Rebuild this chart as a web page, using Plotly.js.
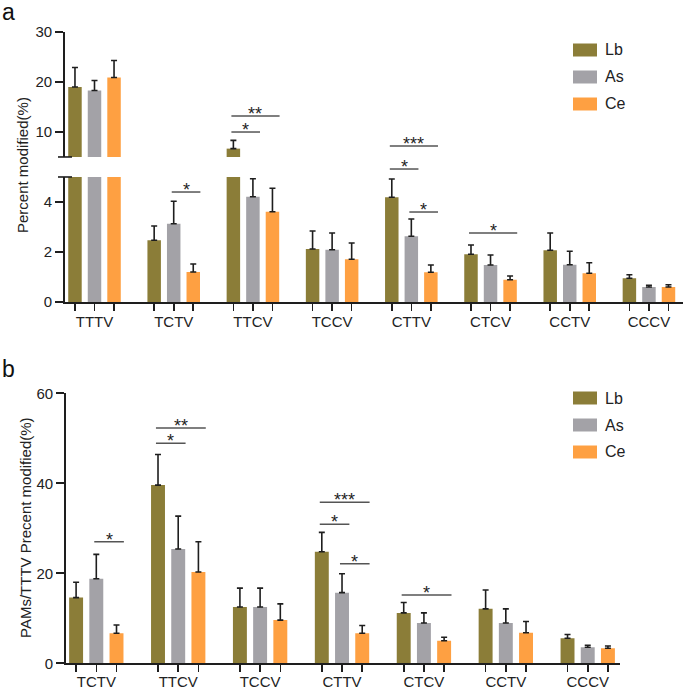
<!DOCTYPE html>
<html>
<head>
<meta charset="utf-8">
<script src="https://cdn.plot.ly/plotly-3.0.1.min.js"></script>
<style>
html, body { margin: 0; padding: 0; background: #fff; }
#chart { width: 685px; height: 690px; }
</style>
</head>
<body>
<div id="chart"></div>
<script>
// panel a: percent modified per PAM motif
var motifsA = ['TTTV', 'TCTV', 'TTCV', 'TCCV', 'CTTV', 'CTCV', 'CCTV', 'CCCV'];
var lbA    = [19.0, 2.47, 6.67, 2.12, 4.19, 1.91, 2.07, 0.95];
var lbErrA = [3.9, 0.57, 1.66, 0.72, 0.73, 0.37, 0.69, 0.14];
var asA    = [18.3, 3.13, 4.21, 2.09, 2.63, 1.48, 1.49, 0.60];
var asErrA = [2.0, 0.90, 0.72, 0.67, 0.69, 0.40, 0.54, 0.07];
var ceA    = [20.9, 1.20, 3.61, 1.71, 1.19, 0.89, 1.15, 0.60];
var ceErrA = [3.4, 0.32, 0.94, 0.65, 0.29, 0.15, 0.42, 0.09];

// panel b: PAMs / TTTV
var motifsB = ['TCTV', 'TTCV', 'TCCV', 'CTTV', 'CTCV', 'CCTV', 'CCCV'];
var lbB    = [14.6, 39.6, 12.5, 24.8, 11.2, 12.1, 5.55];
var lbErrB = [3.4, 6.8, 4.2, 4.3, 2.3, 4.2, 0.85];
var asB    = [18.8, 25.4, 12.5, 15.7, 8.96, 8.96, 3.55];
var asErrB = [5.4, 7.3, 4.2, 4.2, 2.24, 3.14, 0.45];
var ceB    = [6.67, 20.3, 9.6, 6.67, 5.0, 6.8, 3.33];
var ceErrB = [1.83, 6.7, 3.6, 1.73, 0.8, 2.5, 0.52];

// significance brackets: [group, from bar, to bar, height, label]
// panel a heights are in lower-axis units, carried on up past the break
var sigA = [[1, 1, 2, 4.4, '*'], [2, 0, 1, 6.8, '*'], [2, 0, 2, 7.44, '**'],
            [4, 0, 2, 6.24, '***'], [4, 0, 1, 5.32, '*'], [4, 1, 2, 3.6, '*'],
            [5, 0, 2, 2.76, '*']];
var sigB = [[0, 1, 2, 27.0, '*'], [1, 0, 1, 48.9, '*'], [1, 0, 2, 52.3, '**'],
            [3, 0, 2, 35.8, '***'], [3, 0, 1, 30.9, '*'], [3, 1, 2, 22.1, '*'],
            [4, 0, 2, 15.2, '*']];

var names = ['Lb', 'As', 'Ce'];
var colors = ['#8b7d38', '#a3a2a7', '#fea042'];
var FONT = 'Liberation Sans, Arial, sans-serif';
var INK = '#1e1e1e';
var BARGAP = 0.26, GROUPGAP = 0.31;
var BREAK = 5;   // panel a axis break
var slot = (1 - BARGAP) / 3;

function idx(arr) { return arr.map(function (d, i) { return i; }); }

function bar(i, vals, errs, xa, ya) {
    return {
        type: 'bar', name: names[i], x: idx(vals), y: vals,
        xaxis: xa, yaxis: ya, showlegend: false,
        marker: {color: colors[i], line: {width: 0}},
        error_y: {type: 'data', array: errs, arrayminus: errs.map(function () { return 0; }),
                  symmetric: false, color: INK, thickness: 1.6, width: 3},
        hoverinfo: 'skip'
    };
}

var data = [];
var setsA = [[lbA, lbErrA], [asA, asErrA], [ceA, ceErrA]];
var setsB = [[lbB, lbErrB], [asB, asErrB], [ceB, ceErrB]];
setsA.forEach(function (s, i) { data.push(bar(i, s[0], s[1], 'x', 'y')); });
// upper segment: only bars that cross the break keep their error bars
setsA.forEach(function (s, i) {
    var errs = s[1].map(function (e, k) { return s[0][k] > BREAK ? e : 0; });
    data.push(bar(i, s[0], errs, 'x', 'y2'));
});
setsB.forEach(function (s, i) { data.push(bar(i, s[0], s[1], 'x2', 'y3')); });

function ticks(cats) {
    var vals = [], text = [];
    cats.forEach(function (c, g) {
        [-1, 0, 1].forEach(function (k) {
            vals.push(g + k * slot);
            text.push(k === 0 ? c : '');
        });
    });
    return {vals: vals, text: text};
}
var tA = ticks(motifsA), tB = ticks(motifsB);

var axisBase = {
    showline: true, linewidth: 1.8, linecolor: INK, ticks: 'outside', tickcolor: INK,
    tickwidth: 1.6, showgrid: false, zeroline: false, fixedrange: true,
    tickfont: {family: FONT, size: 15, color: '#222'}
};
function ax(extra) { return Object.assign({}, axisBase, extra); }

var shapes = [], annotations = [];
function brackets(list, xref, yref) {
    list.forEach(function (s) {
        var x0 = s[0] + (s[1] - 1) * slot - 0.025;
        var x1 = s[0] + (s[2] - 1) * slot + 0.09;
        shapes.push({type: 'line', xref: xref, yref: yref, x0: x0, x1: x1, y0: s[3], y1: s[3],
                     line: {color: '#555', width: 1.5}});
        annotations.push({xref: xref, yref: yref, x: (x0 + x1) / 2, y: s[3], text: s[4],
                          showarrow: false, yanchor: 'bottom', yshift: -10,
                          font: {family: FONT, size: 18, color: INK}});
    });
}
brackets(sigA, 'x', 'y4');
brackets(sigB, 'x2', 'y3');

// axis break marks
[0.7725, 0.7435].forEach(function (y) {
    shapes.push({type: 'line', xref: 'paper', yref: 'paper', x0: 58 / 685, x1: 72 / 685,
                 y0: y, y1: y, line: {color: INK, width: 1.6}});
});

// legends (swatch + label), one per panel
[[50, 77, 104], [398, 425, 452]].forEach(function (rows) {
    rows.forEach(function (py, i) {
        shapes.push({type: 'rect', xref: 'paper', yref: 'paper',
                     x0: 573 / 685, x1: 597 / 685, y0: 1 - (py + 6.5) / 690, y1: 1 - (py - 6.5) / 690,
                     fillcolor: colors[i], line: {width: 0}});
        annotations.push({xref: 'paper', yref: 'paper', x: 603 / 685, y: 1 - py / 690,
                          xanchor: 'left', yanchor: 'middle', text: names[i], showarrow: false,
                          font: {family: FONT, size: 16, color: '#222'}});
    });
});

annotations.push(
    {xref: 'paper', yref: 'paper', x: 0, y: 1.004, xanchor: 'left', yanchor: 'top', text: 'a',
     showarrow: false, font: {family: FONT, size: 23, color: '#111'}},
    {xref: 'paper', yref: 'paper', x: 0, y: 0.487, xanchor: 'left', yanchor: 'top', text: 'b',
     showarrow: false, font: {family: FONT, size: 23, color: '#111'}},
    {xref: 'paper', yref: 'paper', x: 23 / 685, y: 1 - 165 / 690, textangle: -90,
     xanchor: 'center', yanchor: 'middle',
     text: 'Percent modified(%)', showarrow: false,
     font: {family: FONT, size: 15, color: '#222'}},
    {xref: 'paper', yref: 'paper', x: 25 / 685, y: 1 - 528 / 690, textangle: -90,
     xanchor: 'center', yanchor: 'middle',
     text: 'PAMs/TTTV Precent modified(%)', showarrow: false,
     font: {family: FONT, size: 15, color: '#222'}}
);

var layout = {
    width: 685, height: 690,
    margin: {l: 0, r: 0, t: 0, b: 0, pad: 0},
    paper_bgcolor: '#fff', plot_bgcolor: 'rgba(0,0,0,0)',
    barmode: 'group', bargap: BARGAP, bargroupgap: GROUPGAP,
    font: {family: FONT, color: '#222'},
    showlegend: false,
    xaxis: ax({domain: [65 / 685, 683 / 685], range: [-0.3725, 7.43], anchor: 'y',
               tickmode: 'array', tickvals: tA.vals, ticktext: tA.text, ticklen: 7,
               ticklabelstandoff: -2}),
    yaxis: ax({domain: [0.5623, 0.7435], range: [0, BREAK], anchor: 'x',
               tickmode: 'array', tickvals: [0, 2, 4], ticklen: 8}),
    yaxis2: ax({domain: [0.7725, 0.9536], range: [BREAK, 30], anchor: 'x',
                tickmode: 'array', tickvals: [10, 20, 30], ticklen: 8}),
    yaxis4: {domain: [0.5623, 0.9536], range: [0, 10.8], anchor: 'x', visible: false, fixedrange: true},
    xaxis2: ax({domain: [66 / 685, 620 / 685], range: [-0.37, 6.394], anchor: 'y3',
                tickmode: 'array', tickvals: tB.vals, ticktext: tB.text, ticklen: 7,
                ticklabelstandoff: -3}),
    yaxis3: ax({domain: [0.0387, 0.43], range: [0, 60], anchor: 'x2',
                tickmode: 'array', tickvals: [0, 20, 40, 60], ticklen: 8}),
    shapes: shapes,
    annotations: annotations
};

var config = {responsive: false, displayModeBar: false, staticPlot: true};

Plotly.newPlot('chart', data, layout, config);
</script>
</body>
</html>
